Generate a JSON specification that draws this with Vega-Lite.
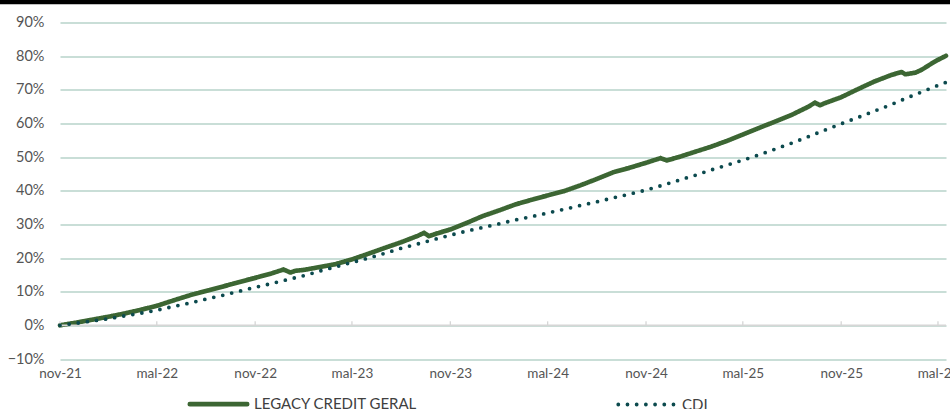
{
  "$schema": "https://vega.github.io/schema/vega-lite/v6.json",
  "width": 886,
  "height": 336.5,
  "autosize": {"type": "none"},
  "padding": {"left": 60, "top": 22.5, "right": 4, "bottom": 50},
  "background": "white",
  "config": {
    "font": "Lato",
    "view": {"stroke": null},
    "axis": {"labelFont": "Lato", "labelColor": "#555555"},
    "axisY": {
      "title": null, "domain": false, "ticks": false,
      "labelFontSize": 14.5, "labelPadding": 16, "labelOverlap": false,
      "grid": true, "gridColor": "#b7d3ca", "gridWidth": 1.6
    },
    "axisX": {
      "title": null, "domain": false, "ticks": false, "grid": false,
      "labelFontSize": 13.5, "labelPadding": 7, "labelFlush": false, "labelOverlap": false
    }
  },
  "datasets": {
    "legacy": [
      {"d": "2021-11-01", "v": 0, "s": "LEGACY CREDIT GERAL"},
      {"d": "2021-12-01", "v": 0.8, "s": "LEGACY CREDIT GERAL"},
      {"d": "2022-01-01", "v": 1.7, "s": "LEGACY CREDIT GERAL"},
      {"d": "2022-02-01", "v": 2.6, "s": "LEGACY CREDIT GERAL"},
      {"d": "2022-03-01", "v": 3.5, "s": "LEGACY CREDIT GERAL"},
      {"d": "2022-04-01", "v": 4.6, "s": "LEGACY CREDIT GERAL"},
      {"d": "2022-05-01", "v": 5.8, "s": "LEGACY CREDIT GERAL"},
      {"d": "2022-06-01", "v": 7.4, "s": "LEGACY CREDIT GERAL"},
      {"d": "2022-07-01", "v": 8.9, "s": "LEGACY CREDIT GERAL"},
      {"d": "2022-08-01", "v": 10.2, "s": "LEGACY CREDIT GERAL"},
      {"d": "2022-09-01", "v": 11.5, "s": "LEGACY CREDIT GERAL"},
      {"d": "2022-10-01", "v": 12.8, "s": "LEGACY CREDIT GERAL"},
      {"d": "2022-11-01", "v": 14.1, "s": "LEGACY CREDIT GERAL"},
      {"d": "2022-12-01", "v": 15.4, "s": "LEGACY CREDIT GERAL"},
      {"d": "2022-12-24", "v": 16.6, "s": "LEGACY CREDIT GERAL"},
      {"d": "2023-01-06", "v": 15.7, "s": "LEGACY CREDIT GERAL"},
      {"d": "2023-01-15", "v": 16.2, "s": "LEGACY CREDIT GERAL"},
      {"d": "2023-02-01", "v": 16.5, "s": "LEGACY CREDIT GERAL"},
      {"d": "2023-03-01", "v": 17.3, "s": "LEGACY CREDIT GERAL"},
      {"d": "2023-04-01", "v": 18.2, "s": "LEGACY CREDIT GERAL"},
      {"d": "2023-05-01", "v": 19.6, "s": "LEGACY CREDIT GERAL"},
      {"d": "2023-06-01", "v": 21.3, "s": "LEGACY CREDIT GERAL"},
      {"d": "2023-07-01", "v": 23.0, "s": "LEGACY CREDIT GERAL"},
      {"d": "2023-08-01", "v": 24.7, "s": "LEGACY CREDIT GERAL"},
      {"d": "2023-09-01", "v": 26.6, "s": "LEGACY CREDIT GERAL"},
      {"d": "2023-09-13", "v": 27.5, "s": "LEGACY CREDIT GERAL"},
      {"d": "2023-09-22", "v": 26.5, "s": "LEGACY CREDIT GERAL"},
      {"d": "2023-10-01", "v": 27.0, "s": "LEGACY CREDIT GERAL"},
      {"d": "2023-11-01", "v": 28.5, "s": "LEGACY CREDIT GERAL"},
      {"d": "2023-12-01", "v": 30.4, "s": "LEGACY CREDIT GERAL"},
      {"d": "2024-01-01", "v": 32.5, "s": "LEGACY CREDIT GERAL"},
      {"d": "2024-02-01", "v": 34.2, "s": "LEGACY CREDIT GERAL"},
      {"d": "2024-03-01", "v": 35.9, "s": "LEGACY CREDIT GERAL"},
      {"d": "2024-04-01", "v": 37.3, "s": "LEGACY CREDIT GERAL"},
      {"d": "2024-05-01", "v": 38.6, "s": "LEGACY CREDIT GERAL"},
      {"d": "2024-06-01", "v": 39.9, "s": "LEGACY CREDIT GERAL"},
      {"d": "2024-07-01", "v": 41.6, "s": "LEGACY CREDIT GERAL"},
      {"d": "2024-08-01", "v": 43.5, "s": "LEGACY CREDIT GERAL"},
      {"d": "2024-09-01", "v": 45.5, "s": "LEGACY CREDIT GERAL"},
      {"d": "2024-10-01", "v": 46.8, "s": "LEGACY CREDIT GERAL"},
      {"d": "2024-11-01", "v": 48.3, "s": "LEGACY CREDIT GERAL"},
      {"d": "2024-11-28", "v": 49.7, "s": "LEGACY CREDIT GERAL"},
      {"d": "2024-12-10", "v": 49.0, "s": "LEGACY CREDIT GERAL"},
      {"d": "2025-01-01", "v": 50.0, "s": "LEGACY CREDIT GERAL"},
      {"d": "2025-02-01", "v": 51.6, "s": "LEGACY CREDIT GERAL"},
      {"d": "2025-03-01", "v": 53.0, "s": "LEGACY CREDIT GERAL"},
      {"d": "2025-04-01", "v": 54.8, "s": "LEGACY CREDIT GERAL"},
      {"d": "2025-05-01", "v": 56.7, "s": "LEGACY CREDIT GERAL"},
      {"d": "2025-06-01", "v": 58.7, "s": "LEGACY CREDIT GERAL"},
      {"d": "2025-07-01", "v": 60.6, "s": "LEGACY CREDIT GERAL"},
      {"d": "2025-08-01", "v": 62.6, "s": "LEGACY CREDIT GERAL"},
      {"d": "2025-09-01", "v": 65.0, "s": "LEGACY CREDIT GERAL"},
      {"d": "2025-09-13", "v": 66.2, "s": "LEGACY CREDIT GERAL"},
      {"d": "2025-09-22", "v": 65.4, "s": "LEGACY CREDIT GERAL"},
      {"d": "2025-10-01", "v": 66.0, "s": "LEGACY CREDIT GERAL"},
      {"d": "2025-11-01", "v": 67.8, "s": "LEGACY CREDIT GERAL"},
      {"d": "2025-12-01", "v": 70.1, "s": "LEGACY CREDIT GERAL"},
      {"d": "2026-01-01", "v": 72.4, "s": "LEGACY CREDIT GERAL"},
      {"d": "2026-02-01", "v": 74.3, "s": "LEGACY CREDIT GERAL"},
      {"d": "2026-02-22", "v": 75.3, "s": "LEGACY CREDIT GERAL"},
      {"d": "2026-03-01", "v": 74.6, "s": "LEGACY CREDIT GERAL"},
      {"d": "2026-03-20", "v": 75.1, "s": "LEGACY CREDIT GERAL"},
      {"d": "2026-04-01", "v": 76.0, "s": "LEGACY CREDIT GERAL"},
      {"d": "2026-04-19", "v": 77.8, "s": "LEGACY CREDIT GERAL"},
      {"d": "2026-05-01", "v": 78.9, "s": "LEGACY CREDIT GERAL"},
      {"d": "2026-05-16", "v": 80.1, "s": "LEGACY CREDIT GERAL"}
    ],
    "cdi": [
      {"d": "2021-11-01", "v": 0, "s": "CDI"},
      {"d": "2021-12-01", "v": 0.6, "s": "CDI"},
      {"d": "2022-01-01", "v": 1.3, "s": "CDI"},
      {"d": "2022-02-01", "v": 2.0, "s": "CDI"},
      {"d": "2022-03-01", "v": 2.8, "s": "CDI"},
      {"d": "2022-04-01", "v": 3.6, "s": "CDI"},
      {"d": "2022-05-01", "v": 4.5, "s": "CDI"},
      {"d": "2022-06-01", "v": 5.6, "s": "CDI"},
      {"d": "2022-07-01", "v": 6.6, "s": "CDI"},
      {"d": "2022-08-01", "v": 7.8, "s": "CDI"},
      {"d": "2022-09-01", "v": 8.9, "s": "CDI"},
      {"d": "2022-10-01", "v": 10.1, "s": "CDI"},
      {"d": "2022-11-01", "v": 11.3, "s": "CDI"},
      {"d": "2022-12-01", "v": 12.4, "s": "CDI"},
      {"d": "2023-01-01", "v": 13.6, "s": "CDI"},
      {"d": "2023-02-01", "v": 14.8, "s": "CDI"},
      {"d": "2023-03-01", "v": 16.1, "s": "CDI"},
      {"d": "2023-04-01", "v": 17.4, "s": "CDI"},
      {"d": "2023-05-01", "v": 18.7, "s": "CDI"},
      {"d": "2023-06-01", "v": 20.0, "s": "CDI"},
      {"d": "2023-07-01", "v": 21.4, "s": "CDI"},
      {"d": "2023-08-01", "v": 22.9, "s": "CDI"},
      {"d": "2023-09-01", "v": 24.2, "s": "CDI"},
      {"d": "2023-10-01", "v": 25.5, "s": "CDI"},
      {"d": "2023-11-01", "v": 26.8, "s": "CDI"},
      {"d": "2023-12-01", "v": 28.0, "s": "CDI"},
      {"d": "2024-01-01", "v": 29.1, "s": "CDI"},
      {"d": "2024-02-01", "v": 30.2, "s": "CDI"},
      {"d": "2024-03-01", "v": 31.3, "s": "CDI"},
      {"d": "2024-04-01", "v": 32.3, "s": "CDI"},
      {"d": "2024-05-01", "v": 33.4, "s": "CDI"},
      {"d": "2024-06-01", "v": 34.5, "s": "CDI"},
      {"d": "2024-07-01", "v": 35.6, "s": "CDI"},
      {"d": "2024-08-01", "v": 36.7, "s": "CDI"},
      {"d": "2024-09-01", "v": 37.9, "s": "CDI"},
      {"d": "2024-10-01", "v": 39.0, "s": "CDI"},
      {"d": "2024-11-01", "v": 40.2, "s": "CDI"},
      {"d": "2024-12-01", "v": 41.6, "s": "CDI"},
      {"d": "2025-01-01", "v": 43.1, "s": "CDI"},
      {"d": "2025-02-01", "v": 44.6, "s": "CDI"},
      {"d": "2025-03-01", "v": 46.1, "s": "CDI"},
      {"d": "2025-04-01", "v": 47.6, "s": "CDI"},
      {"d": "2025-05-01", "v": 49.1, "s": "CDI"},
      {"d": "2025-06-01", "v": 50.7, "s": "CDI"},
      {"d": "2025-07-01", "v": 52.4, "s": "CDI"},
      {"d": "2025-08-01", "v": 54.2, "s": "CDI"},
      {"d": "2025-09-01", "v": 56.1, "s": "CDI"},
      {"d": "2025-10-01", "v": 58.0, "s": "CDI"},
      {"d": "2025-11-01", "v": 59.9, "s": "CDI"},
      {"d": "2025-12-01", "v": 61.7, "s": "CDI"},
      {"d": "2026-01-01", "v": 63.6, "s": "CDI"},
      {"d": "2026-02-01", "v": 65.5, "s": "CDI"},
      {"d": "2026-03-01", "v": 67.4, "s": "CDI"},
      {"d": "2026-04-01", "v": 69.4, "s": "CDI"},
      {"d": "2026-05-01", "v": 71.3, "s": "CDI"},
      {"d": "2026-05-16", "v": 72.2, "s": "CDI"}
    ],
    "ticks": [
      {"d": "2021-11-01"}, {"d": "2022-05-01"}, {"d": "2022-11-01"}, {"d": "2023-05-01"},
      {"d": "2023-11-01"}, {"d": "2024-05-01"}, {"d": "2024-11-01"}, {"d": "2025-05-01"},
      {"d": "2025-11-01"}, {"d": "2026-05-01"}
    ]
  },
  "layer": [
    {
      "data": {"name": "legacy"},
      "mark": {"type": "line", "strokeCap": "round", "strokeJoin": "round", "clip": false},
      "encoding": {
        "x": {
          "field": "d", "type": "temporal",
          "scale": {"domain": [{"year": 2021, "month": 11, "date": 1, "utc": true}, {"year": 2026, "month": 5, "date": 16, "utc": true}]},
          "axis": {
            "values": [
              {"year": 2021, "month": 11, "date": 1, "utc": true},
              {"year": 2022, "month": 5, "date": 1, "utc": true},
              {"year": 2022, "month": 11, "date": 1, "utc": true},
              {"year": 2023, "month": 5, "date": 1, "utc": true},
              {"year": 2023, "month": 11, "date": 1, "utc": true},
              {"year": 2024, "month": 5, "date": 1, "utc": true},
              {"year": 2024, "month": 11, "date": 1, "utc": true},
              {"year": 2025, "month": 5, "date": 1, "utc": true},
              {"year": 2025, "month": 11, "date": 1, "utc": true},
              {"year": 2026, "month": 5, "date": 1, "utc": true}
            ],
            "labelOverlap": false,
            "labelExpr": "(utcmonth(datum.value) == 10 ? 'nov' : 'mal') + '-' + utcFormat(datum.value, '%y')"
          }
        },
        "y": {
          "field": "v", "type": "quantitative",
          "scale": {"domain": [-10, 90], "nice": false, "zero": false},
          "axis": {
            "tickCount": 10,
            "format": "d",
            "labelOverlap": false,
            "labelExpr": "datum.label + '%'"
          }
        },
        "color": {"field": "s", "type": "nominal", "scale": {"domain": ["LEGACY CREDIT GERAL", "CDI"], "range": ["#3c6633", "#0c4a4e"]},
          "legend": {
            "title": null, "orient": "none", "legendX": 127, "legendY": 350, "direction": "horizontal",
            "symbolType": "stroke", "symbolSize": 3300, "symbolStrokeWidth": 4.5,
            "labelFontSize": 15, "labelColor": "#404040", "labelFont": "Lato", "labelOffset": 4,
            "columnPadding": 192, "labelLimit": 300,
            "encode": {"symbols": {"update": {"strokeCap": {"value": "round"}}}}
          }},
        "strokeDash": {"field": "s", "type": "nominal", "scale": {"domain": ["LEGACY CREDIT GERAL", "CDI"], "range": [[1, 0], [0, 9.2]]}, "legend": null},
        "strokeWidth": {"field": "s", "type": "nominal", "scale": {"domain": ["LEGACY CREDIT GERAL", "CDI"], "range": [4.6, 3.8]}, "legend": null}
      }
    },
    {
      "data": {"values": [{}]},
      "mark": {"type": "rule", "color": "#d6d6d6", "strokeWidth": 1.6},
      "encoding": {
        "y": {"datum": 0, "type": "quantitative"}
      }
    },
    {
      "data": {"name": "ticks"},
      "mark": {"type": "rule", "color": "#d6d6d6", "strokeWidth": 1.3},
      "encoding": {
        "x": {"field": "d", "type": "temporal"},
        "y": {"datum": 0, "type": "quantitative"},
        "y2": {"datum": 1.2}
      }
    },
    {
      "data": {"name": "cdi"},
      "mark": {"type": "line", "strokeCap": "round", "strokeJoin": "round", "clip": false},
      "encoding": {
        "x": {"field": "d", "type": "temporal"},
        "y": {"field": "v", "type": "quantitative"},
        "color": {"field": "s", "type": "nominal"},
        "strokeDash": {"field": "s", "type": "nominal", "legend": null},
        "strokeWidth": {"field": "s", "type": "nominal", "legend": null}
      }
    },
    {
      "data": {"values": [{}]},
      "mark": {"type": "rule", "color": "#000000", "strokeWidth": 4.5, "clip": false},
      "encoding": {
        "x": {"datum": {"year": 2021, "month": 7, "date": 1, "utc": true}, "type": "temporal"},
        "x2": {"datum": {"year": 2026, "month": 6, "date": 1, "utc": true}},
        "y": {"datum": 96.1, "type": "quantitative"}
      }
    }
  ]
}
